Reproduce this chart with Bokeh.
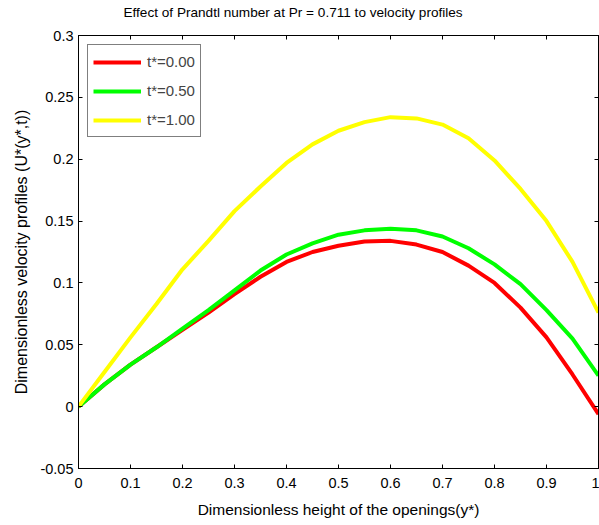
from bokeh.plotting import figure
from bokeh.models import (LinearAxis, FixedTicker, CustomJSTickFormatter, Legend,
                          LegendItem, Range1d, ColumnDataSource)
from bokeh.embed import file_html
from bokeh.resources import INLINE

# ---- data ----
y_star = [0.0, 0.05, 0.1, 0.15, 0.2, 0.25, 0.3, 0.35, 0.4, 0.45, 0.5,
          0.55, 0.6, 0.65, 0.7, 0.75, 0.8, 0.85, 0.9, 0.95, 1.0]
u_t000 = [0.0, 0.018, 0.034, 0.048, 0.062, 0.076, 0.091, 0.105, 0.117, 0.125, 0.130,
          0.1335, 0.134, 0.131, 0.125, 0.114, 0.100, 0.080, 0.056, 0.026, -0.006]
u_t050 = [0.0, 0.018, 0.034, 0.048, 0.063, 0.078, 0.094, 0.110, 0.123, 0.132, 0.139,
          0.1425, 0.1437, 0.1425, 0.1375, 0.128, 0.115, 0.099, 0.078, 0.055, 0.025]
u_t100 = [0.0, 0.028, 0.056, 0.083, 0.111, 0.134, 0.158, 0.178, 0.197, 0.212, 0.223,
          0.230, 0.234, 0.233, 0.228, 0.217, 0.199, 0.176, 0.150, 0.117, 0.076]
series_labels = ["t*=0.00", "t*=0.50", "t*=1.00"]
series_colors = ["#FF0000", "#00FF00", "#FFFF00"]
x_ticks = [0, 0.1, 0.2, 0.3, 0.4, 0.5, 0.6, 0.7, 0.8, 0.9, 1.0]
y_ticks = [-0.05, 0, 0.05, 0.1, 0.15, 0.2, 0.25, 0.3]
title_text = "Effect of Prandtl number at Pr = 0.711 to velocity profiles"

FONT = "Liberation Sans"

p = figure(width=599, height=538, x_range=Range1d(0, 1), y_range=Range1d(-0.05, 0.3),
           output_backend="svg", toolbar_location=None,
           min_border_left=78, min_border_right=1, min_border_top=48, min_border_bottom=57,
           x_axis_label="Dimensionless height of the openings(y*)",
           y_axis_label="Dimensionless velocity profiles (U*(y*,t))",
           styles={"margin-top": "-13px"})

p.title.text = title_text
p.title.align = "left"
p.title.offset = 45
p.title.vertical_align = "top"
p.title.standoff = 28
p.title.text_font = "Liberation Sans"
p.title.text_font_size = "13.6px"
p.title.text_font_style = "normal"
p.title.text_color = "black"

p.xgrid.visible = False
p.ygrid.visible = False
p.outline_line_color = "black"
p.outline_line_width = 1
p.background_fill_color = "white"
p.border_fill_color = "white"

fmt = CustomJSTickFormatter(code="return String(Math.round(tick*100)/100);")
empty = CustomJSTickFormatter(code="return '';")

for ax, ticks in ((p.xaxis[0], x_ticks), (p.yaxis[0], y_ticks)):
    ax.ticker = FixedTicker(ticks=ticks)
    ax.formatter = fmt
    ax.major_tick_in = 4
    ax.major_tick_out = 0
    ax.minor_tick_in = 0
    ax.minor_tick_out = 0
    ax.axis_line_color = "black"
    ax.major_tick_line_color = "black"
    ax.major_label_text_font = FONT
    ax.major_label_text_font_size = "14.5px"
    ax.major_label_text_color = "black"
    ax.axis_label_text_font = FONT
    ax.axis_label_text_font_style = "normal"
    ax.axis_label_text_color = "black"

p.xaxis[0].axis_label_text_font_size = "15.5px"
p.yaxis[0].axis_label_text_font_size = "16px"
p.xaxis[0].major_label_standoff = 9
p.xaxis[0].axis_label_standoff = 10
p.yaxis[0].major_label_standoff = 5
p.yaxis[0].axis_label_standoff = 7

for loc, ticks in (("right", y_ticks), ("above", x_ticks)):
    ax = LinearAxis(ticker=FixedTicker(ticks=ticks), formatter=empty)
    ax.major_tick_in = 4
    ax.major_tick_out = 0
    ax.minor_tick_in = 0
    ax.minor_tick_out = 0
    ax.major_label_standoff = 0
    ax.major_label_text_font_size = "1px"
    ax.axis_line_color = "black"
    p.add_layout(ax, loc)

src = ColumnDataSource(dict(x=y_star, u0=u_t000, u1=u_t050, u2=u_t100))
renderers = []
for col, c in zip(["u0", "u1", "u2"], series_colors):
    r = p.line("x", col, source=src, line_color=c, line_width=4)
    renderers.append(r)

legend = Legend(items=[LegendItem(label=l, renderers=[r]) for l, r in zip(series_labels, renderers)],
                location="top_left")
legend.margin = 9
legend.padding = 5
legend.spacing = 6
legend.glyph_width = 48
legend.glyph_height = 20
legend.label_height = 23
legend.label_standoff = 6
legend.label_text_font = FONT
legend.label_text_font_size = "15px"
legend.border_line_color = "black"
legend.border_line_width = 1
legend.background_fill_alpha = 1
p.add_layout(legend)

open("out.html", "w").write(file_html(p, INLINE))
